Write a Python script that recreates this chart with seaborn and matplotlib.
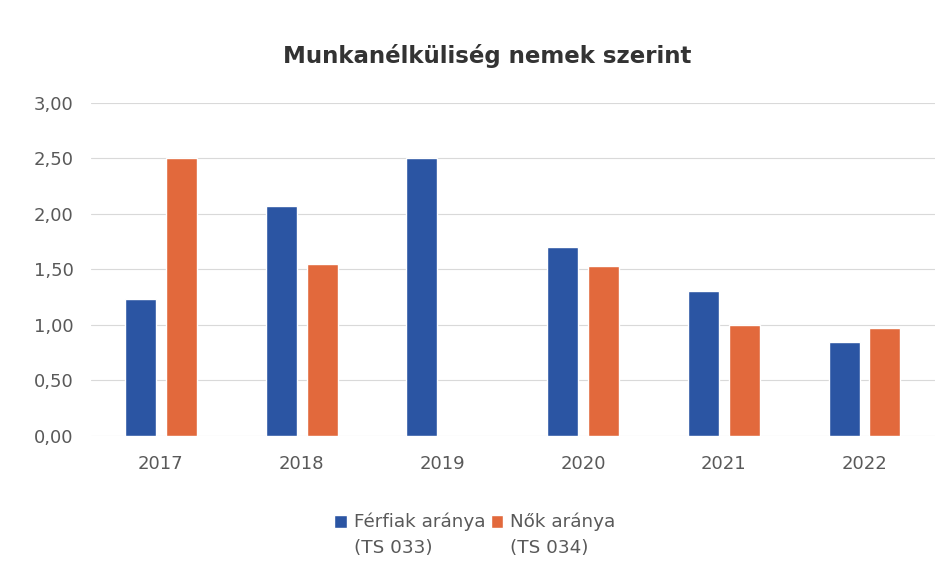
import matplotlib.pyplot as plt
import numpy as np
import pandas as pd
import seaborn as sns
from matplotlib.ticker import FuncFormatter, MultipleLocator

# Years and rates (women 2019 is missing)
years = ["2017", "2018", "2019", "2020", "2021", "2022"]
men_rate = [1.23, 2.07, 2.50, 1.70, 1.31, 0.85]
women_rate = [2.50, 1.55, np.nan, 1.53, 1.00, 0.97]

series_labels = ["Férfiak aránya\n(TS 033)", "Nők aránya\n(TS 034)"]
colors = ["#2B55A3", "#E2693C"]

title = "Munkanélküliség nemek szerint"

# Long table for seaborn
df = pd.DataFrame({
    "year": years * 2,
    "rate": men_rate + women_rate,
    "series": [series_labels[0]] * len(years) + [series_labels[1]] * len(years),
})

sns.set_theme(style="white")
plt.rcParams["font.family"] = ["DejaVu Sans"]

fig = plt.figure(figsize=(9.53, 5.82), dpi=100)
ax = fig.add_axes([0.095, 0.251, 0.886, 0.572])

sns.barplot(
    data=df, x="year", y="rate", hue="series",
    palette=colors, width=0.58, gap=0.24,
    saturation=1, ax=ax, errorbar=None,
)

ax.set_ylim(0, 3.0)
ax.yaxis.set_major_locator(MultipleLocator(0.5))
ax.yaxis.set_major_formatter(FuncFormatter(lambda v, p: f"{v:.2f}".replace(".", ",")))
ax.grid(axis="y", color="#D9D9D9", linewidth=0.8)
ax.set_axisbelow(True)
for s in ax.spines.values():
    s.set_visible(False)
ax.set_xlabel("")
ax.set_ylabel("")
ax.tick_params(axis="y", length=0, labelsize=13, labelcolor="#595959", pad=12)
ax.tick_params(axis="x", length=0, labelsize=13, labelcolor="#595959", pad=14)

ax.set_title(title, fontsize=16.5, fontweight="bold", color="#333333", pad=29,
             x=0.47)

leg = ax.legend(
    loc="upper center", bbox_to_anchor=(0.455, -0.18), ncol=2, frameon=False,
    fontsize=13.2, labelcolor="#595959", handlelength=0.7, handleheight=0.7,
    handletextpad=0.35, columnspacing=0.3,
)
for t in leg.get_texts():
    t.set_linespacing(1.55)
# Put the square markers beside the first line of each label
for h in leg.legend_handles:
    h.set_y(h.get_y() + 10)

fig.savefig("out.png", dpi=100)
